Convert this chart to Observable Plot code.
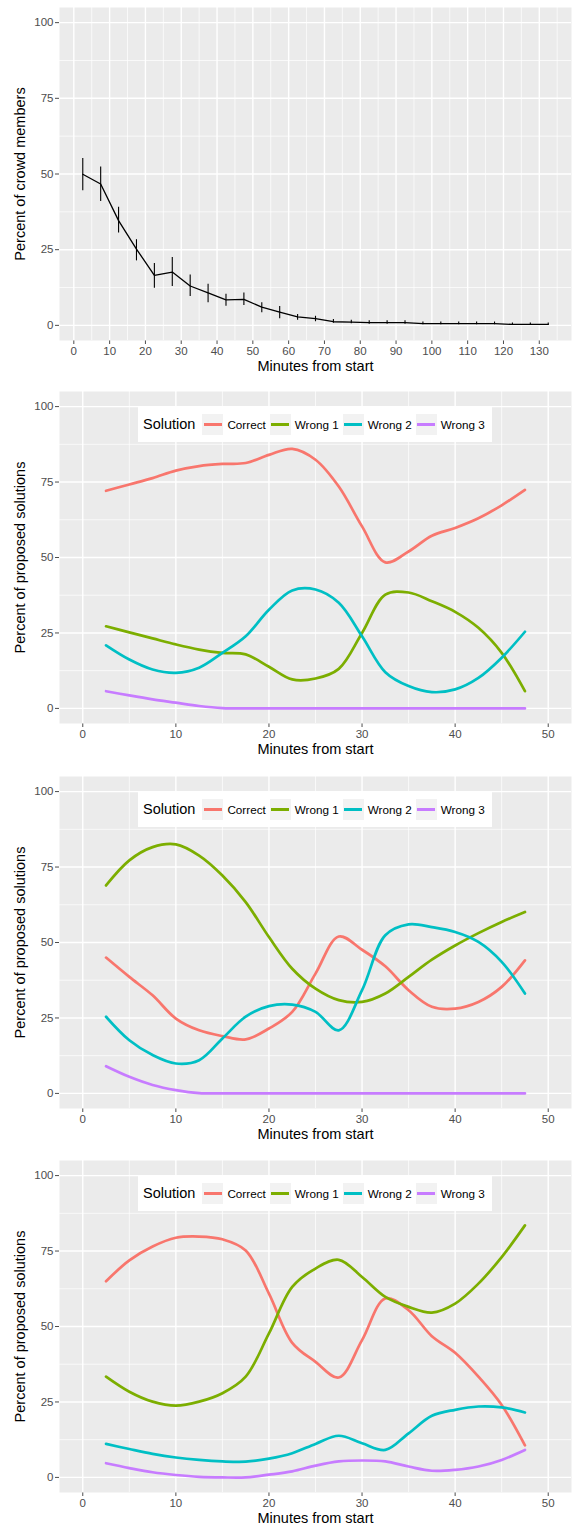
<!DOCTYPE html>
<html><head><meta charset="utf-8">
<script src="https://cdn.jsdelivr.net/npm/d3@7"></script>
<script src="https://cdn.jsdelivr.net/npm/@observablehq/plot@0.6"></script>
<style>
html,body{margin:0;padding:0;background:#fff;overflow:hidden;}
.panel{position:relative;width:574px;}
.panel svg{display:block;}
.legend{position:absolute;left:138px;width:354px;height:35px;background:#fff;display:flex;align-items:center;box-sizing:border-box;padding-left:5px;font-family:"Liberation Sans",Arial,Helvetica,sans-serif;color:#000;}
.legend .ttl{font-size:14.5px;margin-right:7px;}
.legend .key{width:21px;height:21px;background:#F2F2F2;display:flex;align-items:center;justify-content:center;}
.legend .key div{width:18px;height:3px;}
.legend .lab{font-size:11.7px;margin-left:4px;margin-right:4px;}
</style>
</head><body>
<div id="root"></div>
<script>
// ---------- data ----------
const crowdMinutes = [2.5,7.5,12.5,17.5,22.5,27.5,32.5,37.5,42.5,47.5,52.5,57.5,62.5,67.5,72.5,77.5,82.5,87.5,92.5,97.5,102.5,107.5,112.5,117.5,122.5,127.5,132.5];
const crowdPct = [49.9,46.7,34.6,25.2,16.5,17.6,13.0,10.7,8.4,8.6,6.0,4.4,2.8,2.2,1.2,1.1,0.9,0.9,0.9,0.6,0.6,0.6,0.6,0.6,0.3,0.3,0.3];
const crowdLo = [44.5,40.9,30.5,21.3,12.3,12.8,9.5,7.5,6.3,6.6,4.2,2.2,1.7,1.2,0.7,0.5,0.4,0.4,0.4,0.2,0.2,0.2,0.2,0.2,0.0,0.0,0.0];
const crowdHi = [55.1,52.3,39.0,28.3,20.4,22.4,16.6,13.6,10.3,10.7,7.5,6.2,3.6,3.0,1.9,1.7,1.5,1.5,1.5,1.1,1.1,1.1,1.1,1.1,0.8,0.8,0.8];

const crowdXTicks = [0,10,20,30,40,50,60,70,80,90,100,110,120,130];
const crowdXMinor = [5,15,25,35,45,55,65,75,85,95,105,115,125,135];
const solXTicks = [0,10,20,30,40,50];
const solXMinor = [5,15,25,35,45];
const yTicks = [0,25,50,75,100];
const yMinor = [12.5,37.5,62.5,87.5];

const solutions = ["Correct","Wrong 1","Wrong 2","Wrong 3"];
const solutionColors = ["#F8766D","#7CAE00","#00BFC4","#C77CFF"];

const solMinutes = [2.5,5,7.5,10,12.5,15,17.5,20,22.5,25,27.5,30,32.5,35,37.5,40,42.5,45,47.5];

// panel 2
const setACorrect = [72.1,74.2,76.3,78.8,80.3,81.0,81.3,84.0,86.0,82.4,73.5,60.3,48.4,52.0,57.2,59.8,63.0,67.3,72.4];
const setAWrong1  = [27.2,25.2,23.2,21.2,19.5,18.4,17.9,13.8,9.6,9.9,13.1,25.0,37.7,38.4,35.5,32.0,26.7,18.4,5.7];
const setAWrong2  = [20.9,16.2,12.9,11.8,13.5,18.4,23.9,32.7,39.1,39.4,35.0,23.9,12.0,7.4,5.4,6.3,10.1,16.8,25.4];
const setAWrong3  = [5.7,4.3,3.0,1.9,0.8,0.1,0,0,0,0,0,0,0,0,0,0,0,0,0];
// panel 3
const setBCorrect = [45.0,38.6,32.5,24.8,20.9,19.0,17.9,21.5,27.0,39.7,52.0,47.6,42.1,34.2,28.7,28.1,30.3,35.3,44.1];
const setBWrong1  = [68.9,77.2,81.6,82.5,78.8,72.2,63.4,51.8,41.3,34.7,30.9,30.3,33.1,38.6,44.3,49.0,53.1,56.8,60.1];
const setBWrong2  = [25.4,17.6,12.7,9.9,11.0,18.2,25.4,28.9,29.4,27.0,20.9,34.2,52.4,56.0,55.1,53.5,50.2,43.6,33.1];
const setBWrong3  = [9.0,5.5,2.8,1.1,0.1,0,0,0,0,0,0,0,0,0,0,0,0,0,0];
// panel 4
const setCCorrect = [65.0,71.9,76.5,79.4,79.8,78.9,75.2,60.9,44.6,38.3,33.1,45.5,59.3,55.4,46.8,41.3,33.4,24.0,10.6];
const setCWrong1  = [33.4,28.4,25.1,23.8,25.1,27.9,33.4,47.7,63.1,69.2,72.1,66.4,59.8,56.5,54.6,57.6,64.2,73.0,83.5];
const setCWrong2  = [11.1,9.4,7.8,6.6,5.8,5.3,5.2,6.2,8.0,11.1,13.8,11.3,9.1,14.6,20.4,22.4,23.5,23.2,21.5];
const setCWrong3  = [4.7,3.1,1.7,0.8,0.2,0,0,0.9,2.0,3.9,5.3,5.6,5.3,3.6,2.2,2.5,3.6,5.8,9.1];

// ---------- drawing ----------
const FONT = '"Liberation Sans", Arial, Helvetica, sans-serif';
const root = document.getElementById("root");

function baseMarks(xMajor, xMinor, xLabel, yLabel) {
  return [
    Plot.frame({fill: "#EBEBEB", stroke: "none"}),
    Plot.ruleX(xMinor, {stroke: "#fff", strokeWidth: 0.7}),
    Plot.ruleY(yMinor, {stroke: "#fff", strokeWidth: 0.7}),
    Plot.ruleX(xMajor, {stroke: "#fff", strokeWidth: 1.4}),
    Plot.ruleY(yTicks, {stroke: "#fff", strokeWidth: 1.4}),
    Plot.text([xLabel], {frameAnchor: "bottom", dy: 26, textAnchor: "middle", lineAnchor: "middle", fill: "#000", fontSize: 14.5}),
    Plot.text([yLabel], {frameAnchor: "left", dx: -39, rotate: -90, textAnchor: "middle", lineAnchor: "middle", fill: "#000", fontSize: 14.5})
  ];
}

function makePanel(opts, marks) {
  const div = document.createElement("div");
  div.className = "panel";
  const svg = Plot.plot({
    width: 574, height: opts.height,
    marginTop: opts.mt, marginBottom: opts.mb, marginLeft: 59, marginRight: 3,
    style: {background: "#fff", color: "#4D4D4D", fontFamily: FONT, fontSize: "11.5px"},
    x: {domain: opts.xDomain, ticks: opts.xTicks, tickSize: 4, tickPadding: 2, label: null, tickFormat: d => String(d)},
    y: {domain: [-5, 105], ticks: yTicks, tickSize: 4, tickPadding: 2, label: null, tickFormat: d => String(d)},
    color: {domain: solutions, range: solutionColors},
    marks
  });
  div.appendChild(svg);
  root.appendChild(div);
  return div;
}

// panel 1
makePanel({height: 384, mt: 7, mb: 44, xDomain: [-4, 139], xTicks: crowdXTicks}, [
  ...baseMarks(crowdXTicks, crowdXMinor, "Minutes from start", "Percent of crowd members"),
  Plot.line(crowdMinutes, {x: d => d, y: (d, i) => crowdPct[i], stroke: "#000", strokeWidth: 1.3}),
  Plot.ruleX(crowdMinutes, {x: d => d, y1: (d, i) => crowdLo[i], y2: (d, i) => crowdHi[i], stroke: "#000", strokeWidth: 1.1})
]);

function tidy(arrays) {
  const out = [];
  arrays.forEach((arr, s) => arr.forEach((v, i) => out.push({minute: solMinutes[i], pct: v, solution: solutions[s]})));
  return out;
}

function addLegend(div, top) {
  const lg = document.createElement("div");
  lg.className = "legend";
  lg.style.top = top + "px";
  const t = document.createElement("span");
  t.className = "ttl"; t.textContent = "Solution";
  lg.appendChild(t);
  solutions.forEach((s, i) => {
    const k = document.createElement("div"); k.className = "key";
    const l = document.createElement("div"); l.style.background = solutionColors[i];
    k.appendChild(l); lg.appendChild(k);
    const lab = document.createElement("span"); lab.className = "lab"; lab.textContent = s;
    lg.appendChild(lab);
  });
  div.appendChild(lg);
}

const sets = [
  {arrays: [setACorrect, setAWrong1, setAWrong2, setAWrong3], height: 384, mt: 7, mb: 45},
  {arrays: [setBCorrect, setBWrong1, setBWrong2, setBWrong3], height: 384, mt: 8, mb: 44},
  {arrays: [setCCorrect, setCWrong1, setCWrong2, setCWrong3], height: 377, mt: 8, mb: 37}
];
for (const s of sets) {
  const div = makePanel({height: s.height, mt: s.mt, mb: s.mb, xDomain: [-2.5, 52.5], xTicks: solXTicks}, [
    ...baseMarks(solXTicks, solXMinor, "Minutes from start", "Percent of proposed solutions"),
    Plot.line(tidy(s.arrays), {x: "minute", y: "pct", stroke: "solution", z: "solution", curve: "catmull-rom", strokeWidth: 2.7})
  ]);
  addLegend(div, s.mt + 15.7);
}
</script>
</body></html>
